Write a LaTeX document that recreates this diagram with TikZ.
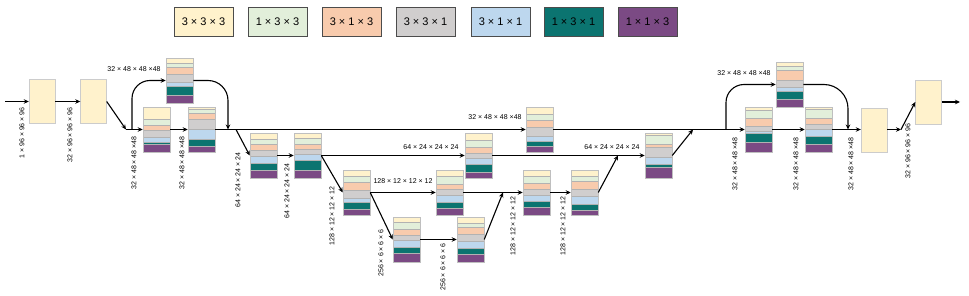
\documentclass[tikz,border=0pt]{standalone}
\usepackage{fontspec}
\setmainfont{Liberation Sans}
\usetikzlibrary{arrows.meta,positioning,calc}
\definecolor{c1}{HTML}{FFF2CC}
\definecolor{c2}{HTML}{E2EFDA}
\definecolor{c3}{HTML}{F8CBAD}
\definecolor{c4}{HTML}{D0CECE}
\definecolor{c5}{HTML}{BDD7EE}
\definecolor{c6}{HTML}{0B7470}
\definecolor{c7}{HTML}{7B4A84}
% one conv block: name, left x, top y, lower edge of each layer
\newcommand{\blk}[4]{%
  \foreach \b [count=\i, remember=\b as \a (initially 0)] in {#4}
    \filldraw[layer,fill=c\i] (#2,{#3+\a}) rectangle ({#2+27},{#3+\b});
  \node[blkframe] (#1) at ({#2+13.5},{#3+22.5}) {};
}

\begin{document}
\begin{tikzpicture}[x=1pt,y=-1pt,>={Stealth[length=5pt,width=4.5pt]},
  font=\fontsize{7}{8}\selectfont,
  layer/.style={draw=black!30,line width=0.4pt},
  blkframe/.style={draw=black!25,line width=0.5pt,minimum width=27pt,minimum height=45pt,inner sep=0pt},
  bigbox/.style={draw=black!20,fill=c1,minimum width=26pt,minimum height=44pt,inner sep=0pt},
  key/.style={draw=black!70,minimum width=59pt,minimum height=29pt,inner sep=0pt,font=\fontsize{11}{13}\selectfont},
  msg/.style={->,line width=1.1pt},
  dim/.style={rotate=90,inner sep=0pt},
  lab/.style={inner sep=1pt}]
  \useasboundingbox (0,0) rectangle (969,296);
  % legend
  \foreach \x/\i/\t in {174/1/3 × 3 × 3,248/2/1 × 3 × 3,322/3/3 × 1 × 3,396/4/3 × 3 × 1,
                        471/5/3 × 1 × 1,544/6/1 × 3 × 1,618/7/1 × 1 × 3}
    \node[key,fill=c\i] (key\i) at ({\x+29.5},21.5) {\t};

  \node[bigbox] (box1) at (42,101.5) {};
  \node[bigbox] (box2) at (93.5,101.5) {};
  \node[bigbox] (boxQ) at (874,130) {};
  \node[bigbox] (boxR) at (928.5,102) {};

  \blk{A}{143}{107}{12,18.7,23.7,30,35,37.7,45}
  \blk{B}{166}{58}{5,9,16,24,28.3,37.3,45}
  \blk{C}{188}{107}{2.7,6,12.7,22,32,39.3,45}
  \blk{D}{250}{133}{6,11,17.7,23.3,30,37.3,45}
  \blk{E}{294}{133}{5,11.7,16,21,27.7,37.3,45}
  \blk{F}{343}{170}{6,12.7,20,28.3,32.7,39,45}
  \blk{G}{436}{170}{6.7,14,19.3,25,32.3,38.3,45}
  \blk{H}{393}{217}{5.7,12.3,18.3,23.3,30,36.7,45}
  \blk{I}{457}{217}{6,10,17.3,24.3,31.7,37.7,45}
  \blk{J}{523}{170}{6,13.3,19.3,25,31,37.3,45}
  \blk{K}{571}{170}{6.7,11,19.3,26.7,34.3,40,45}
  \blk{M}{465}{133}{7.3,14,20.7,25.7,31.3,39,45}
  \blk{L}{645}{133}{2.7,11.7,14.3,24.3,31,34.3,45}
  \blk{S}{526}{107}{7.3,13.3,20,29,34.3,39,45}
  \blk{O}{776}{62}{4.3,8.7,18.7,25,29.3,37,45}
  \blk{N}{745}{107}{3.3,11.7,19,24,26.7,35,45}
  \blk{P}{805}{107}{2.7,11,17.7,22.3,29,37.3,45}

  % sizes
  \foreach \x/\y/\t in {22/133/1 × 96 × 96 × 96,70/135/32 × 96 × 96 × 96,
      134/163/32 × 48 × 48 ×48,182/163/32 × 48 × 48 ×48,
      238/180/64 × 24 × 24 × 24,287/191/64 × 24 × 24 × 24,
      332/216/128 × 12 × 12 × 12,381/253/256 × 6 × 6 × 6,443/267/256 × 6 × 6 × 6,
      513/226/128 × 12 × 12 × 12,563/226/128 × 12 × 12 × 12,
      735/164/32 × 48 × 48 ×48,796/164/32 × 48 × 48 ×48,851/164/32 × 48 × 48 ×48,
      908/151/32 × 96 × 96 × 96}
    \node[dim] (d\x) at (\x,\y) {\t};
  \node[lab] (t1) at (134,69) {32 × 48 × 48 ×48};
  \node[lab] (t2) at (495,117) {32 × 48 × 48 ×48};
  \node[lab] (t3) at (431,147) {64 × 24 × 24 × 24};
  \node[lab] (t4) at (403,181) {128 × 12 × 12 × 12};
  \node[lab] (t5) at (612,147) {64 × 24 × 24 × 24};
  \node[lab] (t6) at (744,73) {32 × 48 × 48 ×48};

  \coordinate (in) at (5,101.5);
  \coordinate (j1) at (126,129.5);
  \coordinate (j1b) at (132,129.5);
  \coordinate (j2) at (228,129.5);
  \coordinate (j3) at (236,129.5);
  \coordinate (j4) at (503,192.5);
  \coordinate (j5) at (618,155.5);
  \coordinate (j6) at (693,129.5);
  \coordinate (j7) at (726,129.5);
  \coordinate (j8) at (848,129.5);
  \coordinate (j9) at (901,129.5);
  \coordinate (out) at (960,102);

  \draw[msg] (in) -- (box1);
  \draw[msg] (box1) -- (box2);
  \draw[msg] (box2.east) -- (j1);
  \draw[msg] (j1) -- (A);
  \draw[msg,rounded corners=18pt] (j1b) |- (B);
  \draw[msg] (A) -- (C);
  \draw[msg,rounded corners=20pt] (B) -| (j2);
  \draw[msg] (C) -- (S);
  \draw[msg] (j3) -- (D.west);
  \draw[msg] (D) -- (E);
  \draw[msg] (E) -- (M);
  \draw[msg] (E.east) -- (F.west);
  \draw[msg] (F) -- (G);
  \draw[msg] (F.east) -- (H.west);
  \draw[msg] (H) -- (I);
  \draw[msg] (I.east) -- (j4);
  \draw[msg] (G) -- (J);
  \draw[msg] (J) -- (K);
  \draw[msg] (K.east) -- (j5);
  \draw[msg] (M) -- (L);
  \draw[msg] (L.east) -- (j6);
  \draw[msg] (S) -- (N);
  \draw[msg,rounded corners=18pt] (j7) |- (O);
  \draw[msg] (N) -- (P);
  \draw[msg,rounded corners=24pt] (O) -| (j8);
  \draw[msg] (P) -- (boxQ.west |- P);
  \draw[msg] (boxQ.east |- j9) -- (j9);
  \draw[msg] (j9) -- (boxR.west);
  \draw[msg] (boxR) -- (out);
\end{tikzpicture}
\end{document}
